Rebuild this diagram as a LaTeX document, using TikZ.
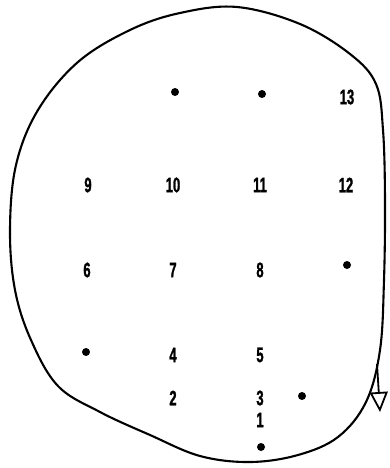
\documentclass[tikz,border=0pt]{standalone}
\usepackage{fontspec}
\newfontfamily\numfont[FakeStretch=0.62, FakeBold=1.2]{Liberation Sans Bold}
\usetikzlibrary{arrows.meta}

\begin{document}
\begin{tikzpicture}[x=1pt, y=-1pt,
    num/.style={font=\fontsize{21}{21}\numfont, inner sep=0pt},
    spot/.style={fill=black, circle, inner sep=0pt, minimum size=8pt},
    rim/.style={line width=2.1pt, line join=round}]
  \useasboundingbox (0,0) rectangle (390,468);

  % ---------------- outline ----------------
  \draw[rim] plot[smooth cycle, tension=0.6] coordinates {
    (237,7) (300,24) (350,54) (376,84) (383,130) (385,200) (384,280)
    (380,350) (366,402) (338,437) (298,455) (250,462) (200,456)
    (150,435) (100,412) (58,386) (31,340) (15,290) (10,230) (16,165)
    (38,110) (78,62) (130,30) (180,13)};
  \coordinate (from) at (377,364);
  \coordinate (to) at (380,412);
  \draw[line width=1.8pt, -{Triangle[open, length=20pt, width=18pt, line width=1.8pt]}] (from) -- (to);

  % ---------------- grid ----------------
  \node[spot] (s1) at (175,92) {};
  \node[spot] (s2) at (262,94) {};
  \node[num] (n13) at (347,97) {13};

  \node[num] (n9) at (88,185) {9};
  \node[num] (n10) at (173,185) {10};
  \node[num] (n11) at (260,185) {11};
  \node[num] (n12) at (346,185) {12};

  \node[num] (n6) at (87,270) {6};
  \node[num] (n7) at (173,270) {7};
  \node[num] (n8) at (260,270) {8};
  \node[spot] (s3) at (347,265) {};

  \node[spot] (s4) at (86,352) {};
  \node[num] (n4) at (173,355) {4};
  \node[num] (n5) at (260,355) {5};

  \node[num] (n2) at (173,398) {2};
  \node[num] (n3) at (260,398) {3};
  \node[spot] (s5) at (302,396) {};
  \node[num] (n1) at (260,420) {1};
  \node[spot] (s6) at (261,447) {};
\end{tikzpicture}
\end{document}
